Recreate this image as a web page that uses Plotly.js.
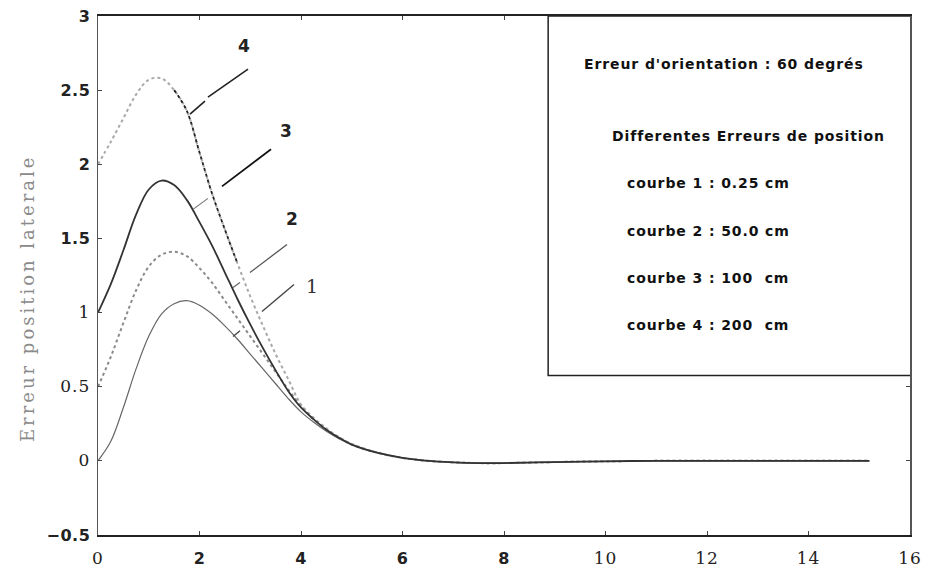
<!DOCTYPE html>
<html>
<head>
<meta charset="utf-8">
<script src="https://cdn.plot.ly/plotly-3.0.1.min.js"></script>
<style>
  html, body { margin: 0; padding: 0; background: #fff; }
  #chart { width: 928px; height: 569px; }
</style>
</head>
<body>
<div id="chart"></div>
<script>
// Lateral position error versus distance, for four initial position errors
const xs = [0, 0.25, 0.5, 0.75, 1, 1.25, 1.5, 1.75, 2, 2.25, 2.5, 2.75, 3, 3.25, 3.5, 3.75, 4, 4.25, 4.5, 4.75, 5, 5.5, 6, 6.5, 7, 7.5, 8, 9, 10, 11, 12, 13, 14, 15.2];

const courbe1 = [0, 0.13, 0.36, 0.62, 0.84, 0.99, 1.06, 1.08, 1.05, 0.99, 0.91, 0.82, 0.72, 0.62, 0.52, 0.42, 0.33, 0.26, 0.20, 0.15, 0.11, 0.055, 0.02, 0.0, -0.01, -0.015, -0.015, -0.008, -0.003, 0, 0, 0, 0, 0];
const courbe2 = [0.5, 0.70, 0.93, 1.15, 1.31, 1.39, 1.41, 1.38, 1.30, 1.20, 1.08, 0.96, 0.84, 0.72, 0.60, 0.48, 0.37, 0.28, 0.21, 0.155, 0.11, 0.055, 0.02, 0.0, -0.01, -0.015, -0.015, -0.008, -0.003, 0, 0, 0, 0, 0];
const courbe3 = [1.0, 1.19, 1.42, 1.66, 1.83, 1.89, 1.86, 1.76, 1.61, 1.45, 1.27, 1.09, 0.92, 0.76, 0.61, 0.47, 0.36, 0.28, 0.21, 0.155, 0.11, 0.055, 0.02, 0.0, -0.01, -0.015, -0.015, -0.008, -0.003, 0, 0, 0, 0, 0];
const courbe4 = [2.0, 2.15, 2.31, 2.47, 2.57, 2.58, 2.50, 2.36, 2.08, 1.80, 1.56, 1.33, 1.11, 0.91, 0.72, 0.55, 0.38, 0.29, 0.22, 0.16, 0.115, 0.055, 0.02, 0.0, -0.01, -0.015, -0.015, -0.008, -0.003, 0, 0, 0, 0, 0];

const xTickVals = [0, 2, 4, 6, 8, 10, 12, 14, 16];
const xTickText = ['0', '2', '4', '6', '8', '10', '12', '14', '16'];
const yTickVals = [-0.5, 0, 0.5, 1, 1.5, 2, 2.5, 3];
const yTickText = ['\u22120.5', '0', '0.5', '1', '1.5', '2', '2.5', '3'];

const legendLines = [
  "Erreur d'orientation : 60 degrés",
  'Differentes Erreurs de position',
  'courbe 1 : 0.25 cm',
  'courbe 2 : 50.0 cm',
  'courbe 3 : 100\u00a0 cm',
  'courbe 4 : 200\u00a0 cm'
];
const curveLabels = ['1', '2', '3', '4'];

// tick labels: some in a light serif face, the others in a wide bold sans
const serif = s => `<span style="font-family:'DejaVu Serif';font-weight:normal;font-size:17px;letter-spacing:1px">${s}</span>`;
const bold = s => `<span style="letter-spacing:0.5px">${s}</span>`;
const xSerif = ['0', '10', '12', '14', '16'];
const ySerif = ['0', '0.5', '1'];

// darker stretch of the curve 4 dotted line
const darkX = [], darkY = [];
xs.forEach((x, i) => { if (x >= 1.5 && x <= 2.75) { darkX.push(x); darkY.push(courbe4[i]); } });

const traces = [
  { x: xs, y: courbe1, mode: 'lines', line: { color: '#666', width: 1.2, shape: 'spline' } },
  { x: xs, y: courbe2, mode: 'lines', line: { color: '#8a8a8a', width: 2, dash: 'dot', shape: 'spline' } },
  { x: xs, y: courbe4, mode: 'lines', line: { color: '#a8a8a8', width: 2, dash: 'dot', shape: 'spline' } },
  { x: darkX, y: darkY, mode: 'lines', line: { color: '#222', width: 1.8, dash: 'dot', shape: 'spline' } },
  { x: xs, y: courbe3, mode: 'lines', line: { color: '#333', width: 1.8, shape: 'spline' } }
];

// leader lines from curve labels to their curves
const leaders = [
  [[1.813, 2.338], [2.108, 2.426], '#222', 1.6],
  [[2.167, 2.453], [2.956, 2.642], '#222', 1.6],
  [[1.872, 1.696], [2.167, 1.770], '#777', 1.2],
  [[2.443, 1.851], [3.409, 2.101], '#111', 1.8],
  [[2.660, 1.169], [2.798, 1.203], '#666', 1.2],
  [[2.995, 1.270], [3.724, 1.459], '#555', 1.3],
  [[2.660, 0.838], [2.798, 0.878], '#444', 1.3],
  [[3.232, 1.007], [3.862, 1.189], '#444', 1.4]
];
const shapes = leaders.map(([a, b, c, w]) => ({
  type: 'line', xref: 'x', yref: 'y', x0: a[0], y0: a[1], x1: b[0], y1: b[1],
  line: { color: c, width: w }
}));
// text box in the upper right corner
shapes.push({
  type: 'rect', xref: 'x', yref: 'y', x0: 8.87, x1: 16.04, y0: 0.575, y1: 3,
  fillcolor: '#fff', layer: 'above', line: { color: '#222', width: 1.5 }
});

const labelPos = [[4.217, 1.176], [3.823, 1.628], [3.704, 2.223], [2.877, 2.797]];
const annotations = curveLabels.map((t, i) => ({
  xref: 'x', yref: 'y', x: labelPos[i][0], y: labelPos[i][1], text: t, showarrow: false,
  font: i === 0 ? { family: 'DejaVu Serif', size: 19, color: '#333' }
                : { family: 'DejaVu Sans', size: 17, weight: 'bold', color: '#222' }
}));

const legendPos = [[0.596, 0.9075], [0.6305, 0.7688], [0.649, 0.678], [0.649, 0.5857], [0.649, 0.4952], [0.649, 0.4046]];
legendLines.forEach((t, i) => annotations.push({
  xref: 'paper', yref: 'paper', x: legendPos[i][0], y: legendPos[i][1], xanchor: 'left', yanchor: 'middle',
  text: `<span style="letter-spacing:0.9px">${t}</span>`, showarrow: false,
  font: { family: 'DejaVu Sans', size: 14, weight: 'bold', color: '#111' }
}));

annotations.push({
  xref: 'paper', yref: 'paper', x: -0.0874, y: 0.4566, xanchor: 'center', yanchor: 'middle',
  textangle: -90, showarrow: false,
  text: '<span style="letter-spacing:3px">Erreur position laterale</span>',
  font: { family: 'DejaVu Serif', size: 18, color: '#8a8a8a' }
});

const layout = {
  width: 928, height: 569,
  margin: { l: 98, r: 18, t: 16, b: 34 },
  paper_bgcolor: '#fff', plot_bgcolor: '#fff',
  showlegend: false,
  xaxis: {
    range: [0, 16], showgrid: false, zeroline: false,
    showline: true, linecolor: '#222', linewidth: 2, mirror: 'ticks',
    ticks: 'inside', ticklen: 4, tickcolor: '#444', ticklabelstandoff: 8,
    tickvals: xTickVals,
    ticktext: xTickText.map(t => xSerif.includes(t) ? serif(t) : bold(t)),
    tickfont: { family: 'DejaVu Sans', size: 16, weight: 'bold', color: '#222' }
  },
  yaxis: {
    range: [-0.5, 3], showgrid: false, zeroline: false,
    showline: true, linecolor: '#555', linewidth: 1.5, mirror: 'ticks',
    ticks: 'inside', ticklen: 4, tickcolor: '#444', ticklabelstandoff: 3,
    tickvals: yTickVals,
    ticktext: yTickText.map(t => ySerif.includes(t) ? serif(t) : bold(t)),
    tickfont: { family: 'DejaVu Sans', size: 16, weight: 'bold', color: '#222' }
  },
  shapes: shapes,
  annotations: annotations
};

Plotly.newPlot('chart', traces, layout, { displayModeBar: false, staticPlot: true });
</script>
</body>
</html>
